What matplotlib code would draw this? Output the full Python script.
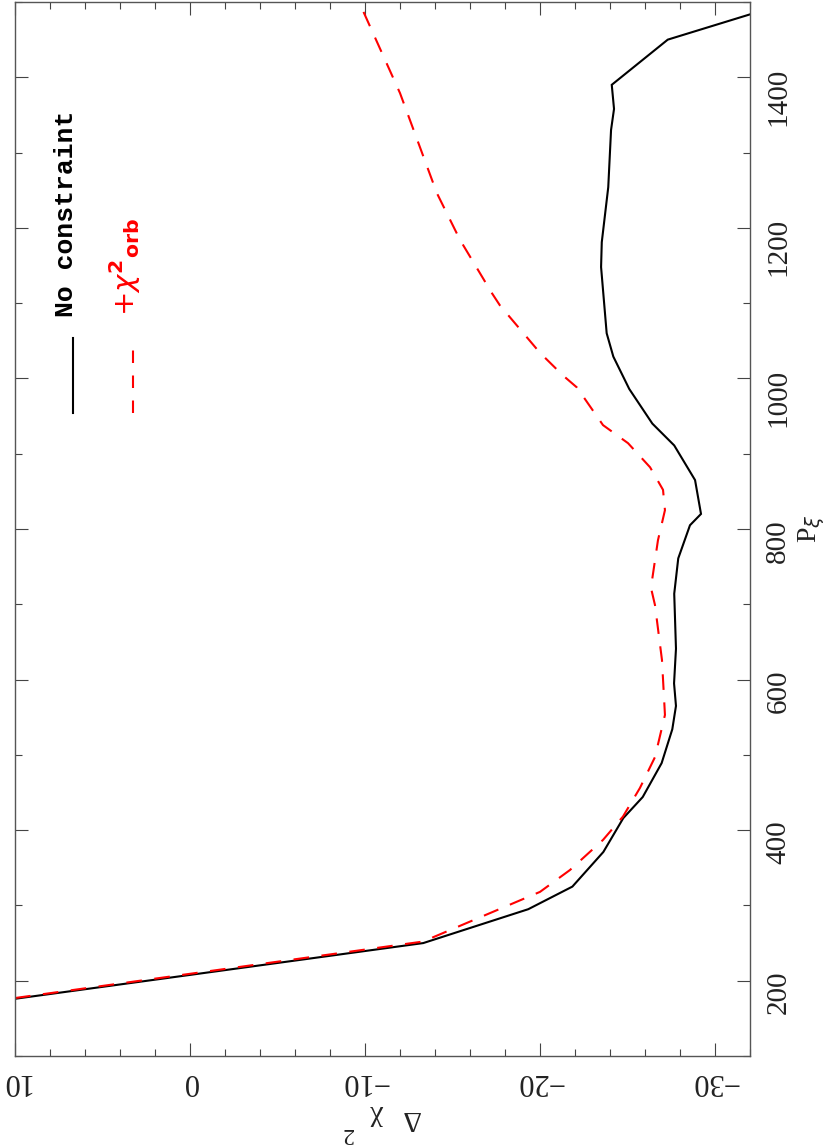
import matplotlib
matplotlib.use("Agg")
import matplotlib.pyplot as plt
from matplotlib.ticker import MultipleLocator

# Data: (delta chi^2, P_xi)
black_dchi2 = [10.0, -13.33, -19.33, -21.85, -23.62, -24.76, -25.87, -26.95, -27.56, -27.77,
               -27.66, -27.77, -27.67, -27.90, -28.57, -29.20, -28.86, -27.67, -26.42, -25.10,
               -24.19, -23.81, -23.49, -23.53, -23.90, -24.06, -24.23, -24.10, -27.30, -32.06]
black_P = [176, 250, 295, 325, 371, 416, 444, 489, 534, 565,
           595, 641, 714, 761, 805, 820, 865, 911, 940, 986,
           1029, 1060, 1148, 1181, 1254, 1330, 1358, 1390, 1450, 1484]

red_dchi2 = [10.0, -13.31, -20.0, -21.71, -23.6, -24.74, -25.71, -26.57, -27.14, -26.97,
             -26.57, -26.34, -26.74, -27.14, -27.03, -26.29, -25.03, -23.6, -22.11, -21.31,
             -20.0, -17.71, -17.26, -15.43, -14.11, -12.0, -9.66]
red_P = [177, 252, 318, 347, 387, 418, 456, 497, 553, 626,
         699, 722, 785, 825, 852, 882, 914, 938, 988, 1004,
         1034, 1097, 1113, 1184, 1246, 1379, 1500]

xticks_major = [10, 0, -10, -20, -30]
yticks_major = [200, 400, 600, 800, 1000, 1200, 1400]

W, H = 830, 1145
fig = plt.figure(figsize=(W / 100, H / 100), dpi=100)
L, R, T, B = 15, 750, 2, 1056
ax = fig.add_axes([L / W, (H - B) / H, (R - L) / W, (B - T) / H])

ax.plot(black_dchi2, black_P, color="black", lw=1.5, solid_joinstyle="miter")
ax.plot(red_dchi2, red_P, color="red", lw=1.5, dashes=(7.5, 6))

ax.set_xlim(10, -32)
ax.set_ylim(100, 1500)
ax.set_xticks(xticks_major)
ax.set_xticklabels(["10", "0", "\u221210", "\u221220", "\u221230"])
ax.xaxis.set_minor_locator(MultipleLocator(2))
ax.set_yticks(yticks_major)
ax.set_yticklabels([str(v) for v in yticks_major])
ax.yaxis.set_minor_locator(MultipleLocator(100))

for s in ax.spines.values():
    s.set_color("#555555")
    s.set_linewidth(1.0)

ax.tick_params(axis="both", which="both", direction="in", top=True, bottom=True,
               left=True, right=True, color="#444444", width=0.8)
ax.tick_params(axis="both", which="major", length=9.4)
ax.tick_params(axis="both", which="minor", length=4.7)
ax.tick_params(axis="y", labelleft=False, labelright=True, labelrotation=90, pad=11)
ax.tick_params(axis="x", labelrotation=180, pad=8)
for lab in ax.get_yticklabels():
    lab.set_fontfamily("Liberation Serif")
    lab.set_fontsize(21)
    lab.set_color("#222222")
for lab in ax.get_xticklabels():
    lab.set_fontfamily("Liberation Serif")
    lab.set_fontsize(22)
    lab.set_color("#222222")

def fx(px):
    return (px - L) / (R - L)

def fy(py):
    return (B - py) / (B - T)

# axis labels
ax.text(fx(812), 0.5, "P$_{\\xi}$", transform=ax.transAxes, rotation=90,
        ha="center", va="center", fontsize=20, family="Liberation Serif",
        color="#222222")
ax.text(fx(396), fy(1118), "\u0394   \u03c7", transform=ax.transAxes, rotation=180,
        ha="center", va="center", fontsize=21, family="Liberation Serif", color="#222222")
ax.text(fx(347), fy(1134), "2", transform=ax.transAxes, rotation=180,
        ha="center", va="center", fontsize=17, family="Liberation Serif", color="#222222")

# legend
y0 = fy(413)
y1 = fy(338)
ax.plot([fx(73), fx(73)], [y0, y1], transform=ax.transAxes, color="black", lw=1.5)
ax.plot([fx(133), fx(133)], [y0, y1], transform=ax.transAxes, color="red", lw=1.5,
        dashes=(6, 6))
ax.text(fx(66), fy(317), "No constraint", transform=ax.transAxes,
        rotation=90, ha="center", va="bottom", fontsize=19, family="Liberation Mono",
        fontweight="bold", color="black")
ax.text(fx(125), fy(316),
        r"$+\chi^{\mathbf{2}}{}_{\mathbf{orb}}$", transform=ax.transAxes,
        rotation=90, ha="center", va="bottom", fontsize=21, color="red")

fig.savefig("out.png", dpi=100)
